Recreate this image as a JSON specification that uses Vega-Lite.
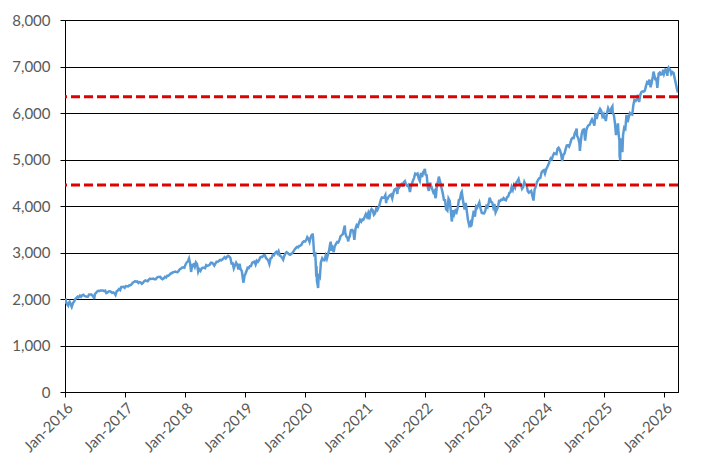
{
  "$schema": "https://vega.github.io/schema/vega-lite/v6.json",
  "autosize": {"type": "none"},
  "padding": {"left": 65, "top": 20, "right": 35, "bottom": 80},
  "width": 613,
  "height": 372,
  "background": "white",
  "config": {
    "view": {"stroke": "black", "strokeWidth": 1},
    "axis": {
      "labelFont": "Lato",
      "labelFontSize": 15,
      "labelColor": "#595959",
      "domainColor": "black",
      "tickColor": "black",
      "gridColor": "black",
      "gridOpacity": 1,
      "title": null
    }
  },
  "layer": [
    {
      "data": {
        "values": [
          {"d":"2016-01-04","v":2012},{"d":"2016-01-08","v":1922},{"d":"2016-01-15","v":1880},{"d":"2016-01-20","v":1859},{"d":"2016-01-22","v":1907},{"d":"2016-01-29","v":1940},{"d":"2016-02-05","v":1880},{"d":"2016-02-11","v":1829},{"d":"2016-02-19","v":1917},{"d":"2016-02-26","v":1948},{"d":"2016-03-04","v":1999},{"d":"2016-03-11","v":2022},{"d":"2016-03-18","v":2050},{"d":"2016-03-24","v":2035},{"d":"2016-04-01","v":2073},{"d":"2016-04-08","v":2047},{"d":"2016-04-15","v":2081},{"d":"2016-04-22","v":2092},{"d":"2016-04-29","v":2065},{"d":"2016-05-06","v":2057},{"d":"2016-05-13","v":2047},{"d":"2016-05-20","v":2052},{"d":"2016-05-27","v":2099},{"d":"2016-06-03","v":2099},{"d":"2016-06-10","v":2096},{"d":"2016-06-17","v":2071},{"d":"2016-06-24","v":2037},{"d":"2016-06-27","v":2000},{"d":"2016-07-01","v":2103},{"d":"2016-07-08","v":2130},{"d":"2016-07-15","v":2162},{"d":"2016-07-22","v":2175},{"d":"2016-07-29","v":2174},{"d":"2016-08-05","v":2183},{"d":"2016-08-12","v":2184},{"d":"2016-08-19","v":2184},{"d":"2016-08-26","v":2169},{"d":"2016-09-02","v":2180},{"d":"2016-09-09","v":2128},{"d":"2016-09-16","v":2139},{"d":"2016-09-23","v":2165},{"d":"2016-09-30","v":2168},{"d":"2016-10-07","v":2153},{"d":"2016-10-14","v":2133},{"d":"2016-10-21","v":2141},{"d":"2016-10-28","v":2126},{"d":"2016-11-04","v":2085},{"d":"2016-11-11","v":2164},{"d":"2016-11-18","v":2182},{"d":"2016-11-25","v":2213},{"d":"2016-12-02","v":2192},{"d":"2016-12-09","v":2259},{"d":"2016-12-16","v":2258},{"d":"2016-12-23","v":2263},{"d":"2016-12-30","v":2239},
          {"d":"2017-01-06","v":2277},{"d":"2017-01-13","v":2275},{"d":"2017-01-20","v":2271},{"d":"2017-01-27","v":2295},{"d":"2017-02-03","v":2297},{"d":"2017-02-10","v":2316},{"d":"2017-02-17","v":2351},{"d":"2017-02-24","v":2367},{"d":"2017-03-03","v":2383},{"d":"2017-03-10","v":2373},{"d":"2017-03-17","v":2378},{"d":"2017-03-24","v":2344},{"d":"2017-03-31","v":2363},{"d":"2017-04-07","v":2355},{"d":"2017-04-13","v":2329},{"d":"2017-04-21","v":2349},{"d":"2017-04-28","v":2384},{"d":"2017-05-05","v":2399},{"d":"2017-05-12","v":2391},{"d":"2017-05-19","v":2382},{"d":"2017-05-26","v":2416},{"d":"2017-06-02","v":2439},{"d":"2017-06-09","v":2432},{"d":"2017-06-16","v":2433},{"d":"2017-06-23","v":2438},{"d":"2017-06-30","v":2423},{"d":"2017-07-07","v":2425},{"d":"2017-07-14","v":2459},{"d":"2017-07-21","v":2473},{"d":"2017-07-28","v":2472},{"d":"2017-08-04","v":2477},{"d":"2017-08-11","v":2441},{"d":"2017-08-18","v":2426},{"d":"2017-08-25","v":2443},{"d":"2017-09-01","v":2477},{"d":"2017-09-08","v":2461},{"d":"2017-09-15","v":2500},{"d":"2017-09-22","v":2502},{"d":"2017-09-29","v":2519},{"d":"2017-10-06","v":2549},{"d":"2017-10-13","v":2553},{"d":"2017-10-20","v":2575},{"d":"2017-10-27","v":2581},{"d":"2017-11-03","v":2588},{"d":"2017-11-10","v":2582},{"d":"2017-11-17","v":2578},{"d":"2017-11-24","v":2602},{"d":"2017-12-01","v":2642},{"d":"2017-12-08","v":2652},{"d":"2017-12-15","v":2675},{"d":"2017-12-22","v":2683},{"d":"2017-12-29","v":2674},
          {"d":"2018-01-05","v":2743},{"d":"2018-01-12","v":2786},{"d":"2018-01-19","v":2810},{"d":"2018-01-26","v":2873},{"d":"2018-02-02","v":2762},{"d":"2018-02-08","v":2581},{"d":"2018-02-09","v":2620},{"d":"2018-02-16","v":2732},{"d":"2018-02-23","v":2747},{"d":"2018-03-02","v":2691},{"d":"2018-03-09","v":2786},{"d":"2018-03-16","v":2752},{"d":"2018-03-23","v":2588},{"d":"2018-03-29","v":2641},{"d":"2018-04-06","v":2604},{"d":"2018-04-13","v":2656},{"d":"2018-04-20","v":2670},{"d":"2018-04-27","v":2670},{"d":"2018-05-04","v":2663},{"d":"2018-05-11","v":2728},{"d":"2018-05-18","v":2713},{"d":"2018-05-25","v":2721},{"d":"2018-06-01","v":2735},{"d":"2018-06-08","v":2779},{"d":"2018-06-15","v":2780},{"d":"2018-06-22","v":2755},{"d":"2018-06-29","v":2718},{"d":"2018-07-06","v":2760},{"d":"2018-07-13","v":2801},{"d":"2018-07-20","v":2802},{"d":"2018-07-27","v":2819},{"d":"2018-08-03","v":2840},{"d":"2018-08-10","v":2833},{"d":"2018-08-17","v":2850},{"d":"2018-08-24","v":2875},{"d":"2018-08-31","v":2902},{"d":"2018-09-07","v":2872},{"d":"2018-09-14","v":2905},{"d":"2018-09-21","v":2930},{"d":"2018-09-28","v":2914},{"d":"2018-10-05","v":2885},{"d":"2018-10-12","v":2767},{"d":"2018-10-19","v":2768},{"d":"2018-10-26","v":2658},{"d":"2018-11-02","v":2723},{"d":"2018-11-09","v":2781},{"d":"2018-11-16","v":2736},{"d":"2018-11-23","v":2633},{"d":"2018-11-30","v":2760},{"d":"2018-12-07","v":2633},{"d":"2018-12-14","v":2600},{"d":"2018-12-21","v":2417},{"d":"2018-12-24","v":2351},{"d":"2018-12-31","v":2507},
          {"d":"2019-01-04","v":2532},{"d":"2019-01-11","v":2596},{"d":"2019-01-18","v":2671},{"d":"2019-01-25","v":2665},{"d":"2019-02-01","v":2707},{"d":"2019-02-08","v":2708},{"d":"2019-02-15","v":2776},{"d":"2019-02-22","v":2793},{"d":"2019-03-01","v":2804},{"d":"2019-03-08","v":2743},{"d":"2019-03-15","v":2822},{"d":"2019-03-22","v":2800},{"d":"2019-03-29","v":2834},{"d":"2019-04-05","v":2893},{"d":"2019-04-12","v":2907},{"d":"2019-04-18","v":2905},{"d":"2019-04-26","v":2940},{"d":"2019-05-03","v":2946},{"d":"2019-05-10","v":2881},{"d":"2019-05-17","v":2860},{"d":"2019-05-24","v":2826},{"d":"2019-05-31","v":2752},{"d":"2019-06-07","v":2873},{"d":"2019-06-14","v":2887},{"d":"2019-06-21","v":2950},{"d":"2019-06-28","v":2942},{"d":"2019-07-05","v":2990},{"d":"2019-07-12","v":3014},{"d":"2019-07-19","v":2977},{"d":"2019-07-26","v":3026},{"d":"2019-08-02","v":2932},{"d":"2019-08-09","v":2919},{"d":"2019-08-16","v":2889},{"d":"2019-08-23","v":2847},{"d":"2019-08-30","v":2926},{"d":"2019-09-06","v":2979},{"d":"2019-09-13","v":3007},{"d":"2019-09-20","v":2992},{"d":"2019-09-27","v":2962},{"d":"2019-10-04","v":2952},{"d":"2019-10-11","v":2970},{"d":"2019-10-18","v":2986},{"d":"2019-10-25","v":3023},{"d":"2019-11-01","v":3067},{"d":"2019-11-08","v":3093},{"d":"2019-11-15","v":3120},{"d":"2019-11-22","v":3110},{"d":"2019-11-29","v":3141},{"d":"2019-12-06","v":3146},{"d":"2019-12-13","v":3169},{"d":"2019-12-20","v":3221},{"d":"2019-12-27","v":3240},
          {"d":"2020-01-03","v":3235},{"d":"2020-01-10","v":3265},{"d":"2020-01-17","v":3330},{"d":"2020-01-24","v":3295},{"d":"2020-01-31","v":3226},{"d":"2020-02-07","v":3328},{"d":"2020-02-14","v":3380},{"d":"2020-02-19","v":3386},{"d":"2020-02-21","v":3338},{"d":"2020-02-28","v":2954},{"d":"2020-03-06","v":2972},{"d":"2020-03-12","v":2481},{"d":"2020-03-13","v":2711},{"d":"2020-03-16","v":2386},{"d":"2020-03-20","v":2305},{"d":"2020-03-23","v":2237},{"d":"2020-03-27","v":2541},{"d":"2020-04-03","v":2489},{"d":"2020-04-09","v":2790},{"d":"2020-04-17","v":2875},{"d":"2020-04-24","v":2837},{"d":"2020-05-01","v":2831},{"d":"2020-05-08","v":2930},{"d":"2020-05-15","v":2864},{"d":"2020-05-22","v":2955},{"d":"2020-05-29","v":3044},{"d":"2020-06-05","v":3194},{"d":"2020-06-08","v":3232},{"d":"2020-06-12","v":3041},{"d":"2020-06-19","v":3098},{"d":"2020-06-26","v":3009},{"d":"2020-07-02","v":3130},{"d":"2020-07-10","v":3185},{"d":"2020-07-17","v":3225},{"d":"2020-07-24","v":3216},{"d":"2020-07-31","v":3271},{"d":"2020-08-07","v":3351},{"d":"2020-08-14","v":3373},{"d":"2020-08-21","v":3397},{"d":"2020-08-28","v":3508},{"d":"2020-09-02","v":3580},{"d":"2020-09-04","v":3427},{"d":"2020-09-11","v":3341},{"d":"2020-09-18","v":3319},{"d":"2020-09-23","v":3237},{"d":"2020-09-25","v":3298},{"d":"2020-10-02","v":3348},{"d":"2020-10-09","v":3477},{"d":"2020-10-16","v":3484},{"d":"2020-10-23","v":3465},{"d":"2020-10-30","v":3270},{"d":"2020-11-06","v":3509},{"d":"2020-11-13","v":3585},{"d":"2020-11-20","v":3558},{"d":"2020-11-27","v":3638},{"d":"2020-12-04","v":3699},{"d":"2020-12-11","v":3663},{"d":"2020-12-18","v":3709},{"d":"2020-12-24","v":3703},{"d":"2020-12-31","v":3756},
          {"d":"2021-01-08","v":3825},{"d":"2021-01-15","v":3768},{"d":"2021-01-22","v":3841},{"d":"2021-01-29","v":3714},{"d":"2021-02-05","v":3887},{"d":"2021-02-12","v":3934},{"d":"2021-02-19","v":3907},{"d":"2021-02-26","v":3811},{"d":"2021-03-05","v":3842},{"d":"2021-03-12","v":3943},{"d":"2021-03-19","v":3913},{"d":"2021-03-26","v":3975},{"d":"2021-04-01","v":4020},{"d":"2021-04-09","v":4129},{"d":"2021-04-16","v":4185},{"d":"2021-04-23","v":4180},{"d":"2021-04-30","v":4181},{"d":"2021-05-07","v":4233},{"d":"2021-05-12","v":4063},{"d":"2021-05-14","v":4174},{"d":"2021-05-21","v":4156},{"d":"2021-05-28","v":4204},{"d":"2021-06-04","v":4230},{"d":"2021-06-11","v":4247},{"d":"2021-06-18","v":4166},{"d":"2021-06-25","v":4281},{"d":"2021-07-02","v":4352},{"d":"2021-07-09","v":4370},{"d":"2021-07-16","v":4327},{"d":"2021-07-19","v":4258},{"d":"2021-07-23","v":4412},{"d":"2021-07-30","v":4395},{"d":"2021-08-06","v":4437},{"d":"2021-08-13","v":4468},{"d":"2021-08-20","v":4442},{"d":"2021-08-27","v":4509},{"d":"2021-09-03","v":4535},{"d":"2021-09-10","v":4459},{"d":"2021-09-17","v":4433},{"d":"2021-09-24","v":4455},{"d":"2021-10-01","v":4357},{"d":"2021-10-04","v":4300},{"d":"2021-10-08","v":4391},{"d":"2021-10-15","v":4471},{"d":"2021-10-22","v":4545},{"d":"2021-10-29","v":4605},{"d":"2021-11-05","v":4697},{"d":"2021-11-12","v":4683},{"d":"2021-11-19","v":4698},{"d":"2021-11-26","v":4595},{"d":"2021-12-03","v":4538},{"d":"2021-12-10","v":4712},{"d":"2021-12-17","v":4621},{"d":"2021-12-23","v":4725},{"d":"2021-12-31","v":4766},
          {"d":"2022-01-03","v":4797},{"d":"2022-01-07","v":4677},{"d":"2022-01-14","v":4663},{"d":"2022-01-21","v":4398},{"d":"2022-01-27","v":4326},{"d":"2022-02-04","v":4501},{"d":"2022-02-11","v":4419},{"d":"2022-02-18","v":4349},{"d":"2022-02-24","v":4289},{"d":"2022-03-04","v":4329},{"d":"2022-03-08","v":4170},{"d":"2022-03-11","v":4204},{"d":"2022-03-18","v":4463},{"d":"2022-03-25","v":4543},{"d":"2022-03-29","v":4632},{"d":"2022-04-08","v":4488},{"d":"2022-04-14","v":4393},{"d":"2022-04-22","v":4272},{"d":"2022-04-29","v":4132},{"d":"2022-05-06","v":4123},{"d":"2022-05-12","v":3930},{"d":"2022-05-20","v":3901},{"d":"2022-05-27","v":4158},{"d":"2022-06-03","v":4108},{"d":"2022-06-10","v":3901},{"d":"2022-06-16","v":3667},{"d":"2022-06-24","v":3912},{"d":"2022-07-01","v":3825},{"d":"2022-07-08","v":3899},{"d":"2022-07-15","v":3863},{"d":"2022-07-22","v":3962},{"d":"2022-07-29","v":4130},{"d":"2022-08-05","v":4145},{"d":"2022-08-12","v":4280},{"d":"2022-08-16","v":4305},{"d":"2022-08-19","v":4228},{"d":"2022-08-26","v":4058},{"d":"2022-09-02","v":3924},{"d":"2022-09-09","v":4067},{"d":"2022-09-16","v":3873},{"d":"2022-09-23","v":3693},{"d":"2022-09-30","v":3586},{"d":"2022-10-07","v":3640},{"d":"2022-10-12","v":3577},{"d":"2022-10-14","v":3583},{"d":"2022-10-21","v":3752},{"d":"2022-10-28","v":3901},{"d":"2022-11-04","v":3771},{"d":"2022-11-11","v":3993},{"d":"2022-11-18","v":3965},{"d":"2022-11-25","v":4026},{"d":"2022-12-01","v":4077},{"d":"2022-12-09","v":3934},{"d":"2022-12-16","v":3852},{"d":"2022-12-23","v":3845},{"d":"2022-12-30","v":3840},
          {"d":"2023-01-06","v":3895},{"d":"2023-01-13","v":3999},{"d":"2023-01-20","v":3973},{"d":"2023-01-27","v":4071},{"d":"2023-02-02","v":4180},{"d":"2023-02-10","v":4090},{"d":"2023-02-17","v":4079},{"d":"2023-02-24","v":3970},{"d":"2023-03-03","v":4046},{"d":"2023-03-10","v":3862},{"d":"2023-03-17","v":3917},{"d":"2023-03-24","v":3971},{"d":"2023-03-31","v":4109},{"d":"2023-04-06","v":4105},{"d":"2023-04-14","v":4138},{"d":"2023-04-21","v":4133},{"d":"2023-04-28","v":4169},{"d":"2023-05-05","v":4136},{"d":"2023-05-12","v":4124},{"d":"2023-05-19","v":4192},{"d":"2023-05-26","v":4205},{"d":"2023-06-02","v":4282},{"d":"2023-06-09","v":4299},{"d":"2023-06-16","v":4410},{"d":"2023-06-23","v":4348},{"d":"2023-06-30","v":4450},{"d":"2023-07-07","v":4399},{"d":"2023-07-14","v":4505},{"d":"2023-07-21","v":4536},{"d":"2023-07-28","v":4582},{"d":"2023-08-04","v":4478},{"d":"2023-08-11","v":4464},{"d":"2023-08-18","v":4370},{"d":"2023-08-25","v":4406},{"d":"2023-09-01","v":4516},{"d":"2023-09-08","v":4457},{"d":"2023-09-15","v":4450},{"d":"2023-09-22","v":4320},{"d":"2023-09-29","v":4288},{"d":"2023-10-06","v":4309},{"d":"2023-10-13","v":4327},{"d":"2023-10-20","v":4224},{"d":"2023-10-27","v":4117},{"d":"2023-11-03","v":4358},{"d":"2023-11-10","v":4415},{"d":"2023-11-17","v":4514},{"d":"2023-11-24","v":4559},{"d":"2023-12-01","v":4595},{"d":"2023-12-08","v":4604},{"d":"2023-12-15","v":4719},{"d":"2023-12-22","v":4755},{"d":"2023-12-29","v":4770},
          {"d":"2024-01-05","v":4697},{"d":"2024-01-12","v":4784},{"d":"2024-01-19","v":4840},{"d":"2024-01-26","v":4891},{"d":"2024-02-02","v":4959},{"d":"2024-02-09","v":5027},{"d":"2024-02-16","v":5006},{"d":"2024-02-23","v":5089},{"d":"2024-03-01","v":5137},{"d":"2024-03-08","v":5124},{"d":"2024-03-15","v":5117},{"d":"2024-03-22","v":5234},{"d":"2024-03-28","v":5254},{"d":"2024-04-05","v":5204},{"d":"2024-04-12","v":5123},{"d":"2024-04-19","v":4967},{"d":"2024-04-26","v":5100},{"d":"2024-05-03","v":5128},{"d":"2024-05-10","v":5223},{"d":"2024-05-17","v":5303},{"d":"2024-05-24","v":5305},{"d":"2024-05-31","v":5278},{"d":"2024-06-07","v":5347},{"d":"2024-06-14","v":5432},{"d":"2024-06-21","v":5465},{"d":"2024-06-28","v":5460},{"d":"2024-07-05","v":5567},{"d":"2024-07-12","v":5615},{"d":"2024-07-16","v":5667},{"d":"2024-07-19","v":5505},{"d":"2024-07-26","v":5459},{"d":"2024-08-02","v":5346},{"d":"2024-08-05","v":5186},{"d":"2024-08-09","v":5344},{"d":"2024-08-16","v":5554},{"d":"2024-08-23","v":5635},{"d":"2024-08-30","v":5648},{"d":"2024-09-06","v":5408},{"d":"2024-09-13","v":5626},{"d":"2024-09-20","v":5703},{"d":"2024-09-27","v":5738},{"d":"2024-10-04","v":5751},{"d":"2024-10-11","v":5815},{"d":"2024-10-18","v":5864},{"d":"2024-10-25","v":5808},{"d":"2024-11-01","v":5729},{"d":"2024-11-08","v":5996},{"d":"2024-11-15","v":5871},{"d":"2024-11-22","v":5969},{"d":"2024-11-29","v":6032},{"d":"2024-12-06","v":6090},{"d":"2024-12-13","v":6051},{"d":"2024-12-20","v":5931},{"d":"2024-12-27","v":5971},{"d":"2024-12-31","v":5882},
          {"d":"2025-01-03","v":5942},{"d":"2025-01-10","v":5827},{"d":"2025-01-17","v":5997},{"d":"2025-01-24","v":6101},{"d":"2025-01-31","v":6041},{"d":"2025-02-07","v":6026},{"d":"2025-02-14","v":6115},{"d":"2025-02-19","v":6144},{"d":"2025-02-21","v":6013},{"d":"2025-02-28","v":5955},{"d":"2025-03-07","v":5770},{"d":"2025-03-13","v":5522},{"d":"2025-03-14","v":5639},{"d":"2025-03-21","v":5668},{"d":"2025-03-25","v":5777},{"d":"2025-03-28","v":5581},{"d":"2025-04-03","v":5396},{"d":"2025-04-04","v":5074},{"d":"2025-04-08","v":4983},{"d":"2025-04-09","v":5457},{"d":"2025-04-11","v":5363},{"d":"2025-04-17","v":5283},{"d":"2025-04-21","v":5158},{"d":"2025-04-25","v":5525},{"d":"2025-05-02","v":5686},{"d":"2025-05-09","v":5660},{"d":"2025-05-16","v":5958},{"d":"2025-05-23","v":5803},{"d":"2025-05-30","v":5912},{"d":"2025-06-06","v":6000},{"d":"2025-06-13","v":5977},{"d":"2025-06-20","v":5967},{"d":"2025-06-27","v":6173},{"d":"2025-07-03","v":6279},{"d":"2025-07-11","v":6260},{"d":"2025-07-18","v":6297},{"d":"2025-07-25","v":6389},{"d":"2025-08-01","v":6238},{"d":"2025-08-08","v":6389},{"d":"2025-08-15","v":6450},{"d":"2025-08-22","v":6467},{"d":"2025-08-29","v":6460},{"d":"2025-09-05","v":6482},{"d":"2025-09-12","v":6584},{"d":"2025-09-19","v":6664},{"d":"2025-09-26","v":6644},{"d":"2025-10-03","v":6716},{"d":"2025-10-10","v":6553},{"d":"2025-10-17","v":6664},{"d":"2025-10-24","v":6792},{"d":"2025-10-28","v":6891},{"d":"2025-10-31","v":6840},{"d":"2025-11-07","v":6729},{"d":"2025-11-14","v":6734},{"d":"2025-11-20","v":6538},{"d":"2025-11-28","v":6849},{"d":"2025-12-05","v":6870},{"d":"2025-12-12","v":6827},{"d":"2025-12-19","v":6834},{"d":"2025-12-26","v":6930},{"d":"2025-12-31","v":6845},
          {"d":"2026-01-09","v":6940},{"d":"2026-01-16","v":6930},{"d":"2026-01-20","v":6800},{"d":"2026-01-23","v":6915},{"d":"2026-01-28","v":6975},{"d":"2026-02-06","v":6930},{"d":"2026-02-13","v":6840},{"d":"2026-02-20","v":6880},{"d":"2026-02-27","v":6860},{"d":"2026-03-06","v":6740},{"d":"2026-03-13","v":6630},{"d":"2026-03-20","v":6510},{"d":"2026-03-25","v":6440}
        ]
      },
      "mark": {"type": "line", "color": "#5b9bd5", "strokeWidth": 2.5, "clip": true},
      "encoding": {
        "x": {
          "field": "d",
          "type": "temporal",
          "scale": {
            "type": "utc",
            "domain": [
              {"year": 2016, "month": 1, "date": 1, "utc": true},
              {"year": 2026, "month": 3, "date": 26, "utc": true}
            ]
          },
          "axis": {
            "values": [
              {"year": 2016, "month": 1, "date": 1, "utc": true},
              {"year": 2017, "month": 1, "date": 1, "utc": true},
              {"year": 2018, "month": 1, "date": 1, "utc": true},
              {"year": 2019, "month": 1, "date": 1, "utc": true},
              {"year": 2020, "month": 1, "date": 1, "utc": true},
              {"year": 2021, "month": 1, "date": 1, "utc": true},
              {"year": 2022, "month": 1, "date": 1, "utc": true},
              {"year": 2023, "month": 1, "date": 1, "utc": true},
              {"year": 2024, "month": 1, "date": 1, "utc": true},
              {"year": 2025, "month": 1, "date": 1, "utc": true},
              {"year": 2026, "month": 1, "date": 1, "utc": true}
            ],
            "format": "%b-%Y",
            "grid": false,
            "tickSize": 5,
            "labelAngle": -45,
            "labelAlign": "right",
            "labelBaseline": "top",
            "labelPadding": 3,
            "labelOverlap": false,
            "labelFlush": false
          }
        },
        "y": {
          "field": "v",
          "type": "quantitative",
          "scale": {"domain": [0, 8000], "nice": false},
          "axis": {
            "values": [0, 1000, 2000, 3000, 4000, 5000, 6000, 7000, 8000],
            "format": ",d",
            "grid": true,
            "tickSize": 5,
            "labelPadding": 10
          }
        }
      }
    },
    {
      "data": {"values": [{"level": 6350}, {"level": 4450}]},
      "mark": {"type": "rule", "color": "#e00000", "strokeWidth": 3, "strokeDash": [9, 4]},
      "encoding": {
        "y": {"field": "level", "type": "quantitative"}
      }
    }
  ]
}
